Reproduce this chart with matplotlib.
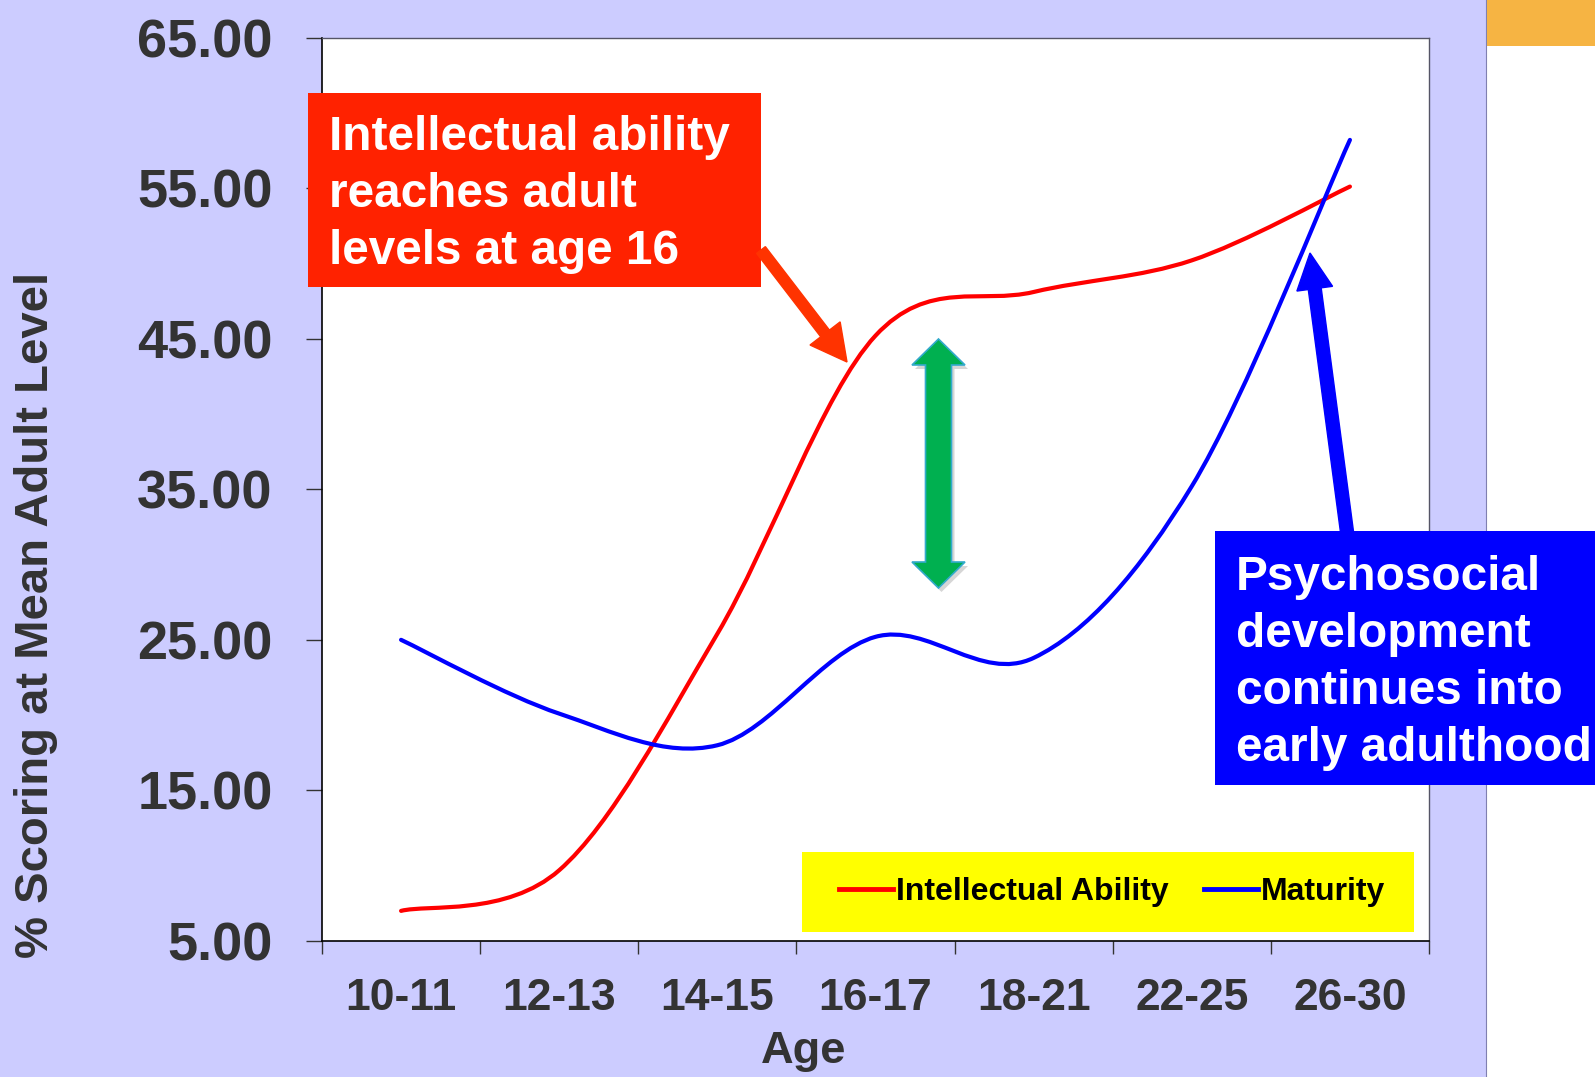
import numpy as np
import matplotlib
matplotlib.use("Agg")
import matplotlib.pyplot as plt
from matplotlib.path import Path
from matplotlib.patches import PathPatch, Rectangle, FancyArrow, Polygon
from matplotlib.lines import Line2D

# --- data ---
ages = ['10-11', '12-13', '14-15', '16-17', '18-21', '22-25', '26-30']
intellectual = [7.0, 9.7, 25.4, 45.2, 48.1, 50.2, 55.1]
maturity = [25.0, 20.1, 18.0, 25.2, 23.8, 35.2, 58.2]
yticks = [5, 15, 25, 35, 45, 55, 65]

W, H = 1595, 1077
FONT = 'Liberation Sans'
GREY = '#333333'
plt.rcParams['font.family'] = [FONT, 'DejaVu Sans']


def smooth_path(xs, ys):
    # excel style smoothed line: cubic bezier through every point
    pts = np.column_stack([xs, ys]).astype(float)
    n = len(pts)
    verts = [pts[0]]
    codes = [Path.MOVETO]
    for i in range(n - 1):
        p0 = pts[max(i - 1, 0)]
        p1 = pts[i]
        p2 = pts[i + 1]
        p3 = pts[min(i + 2, n - 1)]
        verts += [p1 + (p2 - p0) / 6, p2 - (p3 - p1) / 6, p2]
        codes += [Path.CURVE4] * 3
    return Path(verts, codes)


def P(x, y):
    # pixel position (from top-left) -> inches for dpi_scale_trans
    return (x / 100, (H - y) / 100)


fig = plt.figure(figsize=(W / 100, H / 100), dpi=100, facecolor='white')
inch = fig.dpi_scale_trans

# slide background
fig.add_artist(Rectangle((0, 0), 1486 / 100, H / 100, transform=inch,
                         facecolor='#CCCCFF', edgecolor='none', zorder=-10))
fig.add_artist(Line2D([14.86, 14.86], [0, H / 100], transform=inch,
                      color='#8080B0', lw=0.8, zorder=-9))
fig.add_artist(Rectangle(P(1487, 46), (W - 1487) / 100, 0.46, transform=inch,
                         facecolor='#F6B443', edgecolor='none', zorder=-9))

ax = fig.add_axes([322 / W, 1 - 941 / H, (1429 - 322) / W, (941 - 37.5) / H])
ax.set_facecolor('white')

x = np.arange(len(ages))
ax.add_patch(PathPatch(smooth_path(x, intellectual), fill=False,
                       edgecolor='#FF0000', lw=3.0, capstyle='round', zorder=3))
ax.add_patch(PathPatch(smooth_path(x, maturity), fill=False,
                       edgecolor='#0000FF', lw=3.0, capstyle='round', zorder=3))

ax.set_xlim(-0.5, len(ages) - 0.5)
ax.set_ylim(5, 65)
ax.set_yticks(yticks)
ax.set_yticklabels([f'{v:.2f}' for v in yticks])
ax.set_xticks(x)
ax.set_xticklabels(ages)
ax.set_xticks(np.arange(len(ages) + 1) - 0.5, minor=True)
ax.tick_params(axis='x', which='major', length=0, pad=27, labelsize=32,
               labelcolor=GREY)
ax.tick_params(axis='x', which='minor', length=9.5, width=1, color=GREY)
ax.tick_params(axis='y', length=11.5, width=1, color=GREY, pad=24,
               labelsize=39, labelcolor=GREY)
for lab in ax.get_xticklabels() + ax.get_yticklabels():
    lab.set_fontweight('bold')
for side in ['left', 'bottom']:
    ax.spines[side].set_color('black')
    ax.spines[side].set_linewidth(1.2)
for side in ['top', 'right']:
    ax.spines[side].set_color('#555566')
    ax.spines[side].set_linewidth(1.0)

fig.text(*P(36, 615), '% Scoring at Mean Adult Level', transform=inch,
         rotation=90, ha='center', va='center', fontsize=34,
         fontweight='bold', color=GREY)
fig.text(*P(804, 1063), 'Age', transform=inch, ha='center', va='baseline',
         fontsize=32.6, fontweight='bold', color=GREY)

# legend on a yellow box
fig.add_artist(Rectangle(P(802, 932), 6.12, 0.80, transform=inch,
                         facecolor='#FFFF00', edgecolor='none', zorder=4))
handles = [Line2D([], [], color='#FF0000', lw=3.5),
           Line2D([], [], color='#0000FF', lw=3.5)]
fig.legend(handles, ['Intellectual Ability', 'Maturity'], loc='center',
           bbox_to_anchor=P(1112, 892), bbox_transform=inch, ncol=2,
           frameon=False, handlelength=1.69, handletextpad=0.1,
           columnspacing=1.1, prop={'family': FONT, 'weight': 'bold',
                                    'size': 23})

# red callout
fig.add_artist(Rectangle(P(308, 286.5), 4.53, 1.935, transform=inch,
                         facecolor='#FF2200', edgecolor='none', zorder=5))
for i, line in enumerate(['Intellectual ability', 'reaches adult',
                          'levels at age 16']):
    fig.text(*P(328.6, 150 + 57 * i), line, transform=inch, ha='left',
             va='baseline', fontsize=34.4, fontweight='bold', color='white',
             zorder=6)
tx, ty = P(761, 250)
hx, hy = P(847, 362)
fig.add_artist(FancyArrow(tx, ty, hx - tx, hy - ty, width=0.11,
                          head_width=0.38, head_length=0.36,
                          length_includes_head=True, transform=inch,
                          color='#FF3300', zorder=5))

# blue callout
fig.add_artist(Rectangle(P(1215, 785), (W - 1215) / 100, 2.54, transform=inch,
                         facecolor='#0000FF', edgecolor='none', zorder=5))
for i, line in enumerate(['Psychosocial', 'development', 'continues into',
                          'early adulthood']):
    fig.text(*P(1236, 590 + 57 * i), line, transform=inch, ha='left',
             va='baseline', fontsize=34.4, fontweight='bold', color='white',
             zorder=6)
tx, ty = P(1347, 532)
hx, hy = P(1310, 253)
fig.add_artist(FancyArrow(tx, ty, hx - tx, hy - ty, width=0.13,
                          head_width=0.36, head_length=0.36,
                          length_includes_head=True, transform=inch,
                          color='#0000FF', zorder=5))

# green double arrow
cx, top, bot = 938.5, 339, 588
sw, hw, hl = 13, 26.5, 26
pts = [(cx, top), (cx + hw, top + hl), (cx + sw, top + hl),
       (cx + sw, bot - hl), (cx + hw, bot - hl), (cx, bot),
       (cx - hw, bot - hl), (cx - sw, bot - hl), (cx - sw, top + hl),
       (cx - hw, top + hl)]
shadow = [P(px + 3, py + 4) for px, py in pts]
fig.add_artist(Polygon(shadow, closed=True, transform=inch,
                       facecolor='#BBBBBB', edgecolor='none', alpha=0.6,
                       zorder=4))
fig.add_artist(Polygon([P(px, py) for px, py in pts], closed=True,
                       transform=inch, facecolor='#00B050',
                       edgecolor='#33AACC', lw=1.2, zorder=5))

fig.savefig('out.png', dpi=100, facecolor=fig.get_facecolor())
